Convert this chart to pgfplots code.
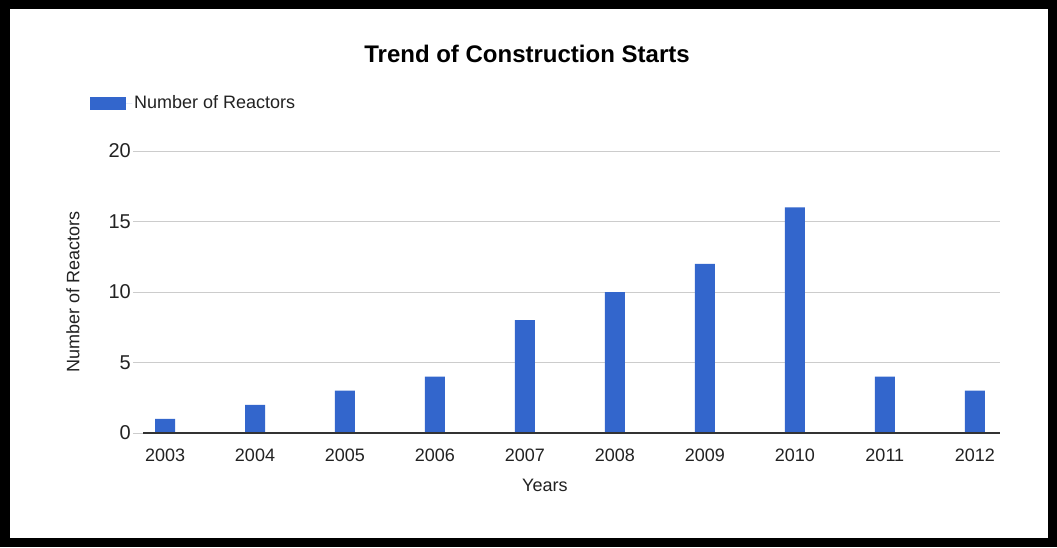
\documentclass[border=0pt]{standalone}
\usepackage{fontspec}
\setmainfont{Liberation Sans}
\usepackage{pgfplots}
\pgfplotsset{compat=1.18}
\definecolor{barblue}{HTML}{3366CC}
\definecolor{gridgray}{HTML}{CCCCCC}
\definecolor{txt}{HTML}{222222}
\begin{document}
\begin{tikzpicture}
\useasboundingbox (0pt,0pt) rectangle (1057pt,547pt);
\fill[white] (0pt,0pt) rectangle (1057pt,547pt);
\begin{axis}[
  at={(133pt,114pt)}, anchor=south west,
  scale only axis, width=867pt, height=282pt,
  xmin=-0.356, xmax=9.28, ymin=0, ymax=20,
  ytick={0,5,10,15,20},
  xtick={0,...,9},
  xticklabels={2003,2004,2005,2006,2007,2008,2009,2010,2011,2012},
  major tick length=0pt,
  axis line style={draw=none},
  ymajorgrids, grid style={gridgray, line width=1pt},
  tick label style={font=\fontsize{18}{20}\selectfont, text=txt},
  /pgf/number format/assume math mode=true,
  yticklabel style={inner sep=2pt, font=\fontsize{20}{22}\selectfont},
  xticklabel style={yshift=-12pt},
  xlabel={Years}, ylabel={Number of Reactors},
  label style={font=\fontsize{18}{20}\selectfont, text=txt},
  xlabel style={at={(axis description cs:0.475,0)}, anchor=center, yshift=-52pt},
  ylabel style={at={(axis description cs:0,0.5)}, anchor=center, yshift=60pt},
  legend style={at={(axis description cs:-0.0496,1.170)}, anchor=west, draw=none, fill=none,
    inner sep=0pt, font=\fontsize{18}{20}\selectfont, text=txt},
  legend image code/.code={\fill[barblue] (0pt,-6.5pt) rectangle (36pt,6.5pt); \path (0pt,0pt) -- (42pt,0pt);},
  clip=false,
]
\addplot[ybar, bar width=20pt, fill=barblue, draw=none, bar shift=0pt]
  coordinates {(0,1) (1,2) (2,3) (3,4) (4,8) (5,10) (6,12) (7,16) (8,4) (9,3)};
\addlegendentry{Number of Reactors}
\draw[color=black!80, line width=1.2pt] (axis cs:-0.244,0) -- (axis cs:9.28,0);
\end{axis}
\node[font=\bfseries\fontsize{24}{28}\selectfont] at (527pt,493pt) {Trend of Construction Starts};
\draw[line width=9.5pt] (4.75pt,4.75pt) rectangle (1052.25pt,542.25pt);
\end{tikzpicture}
\end{document}
